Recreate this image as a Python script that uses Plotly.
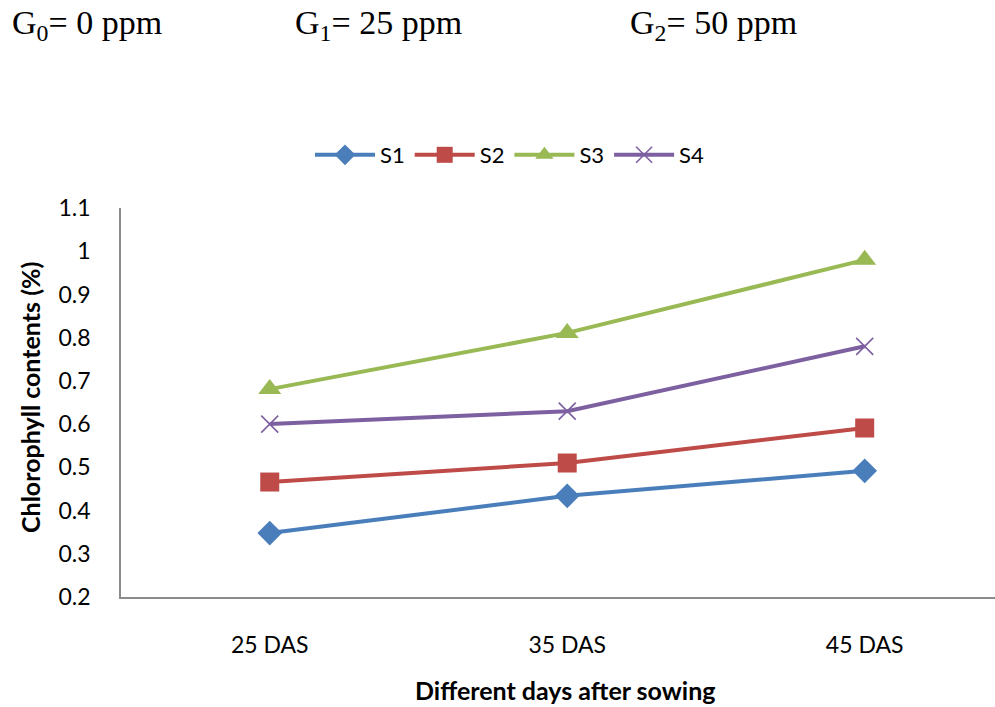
import plotly.graph_objects as go

# Sampling dates and chlorophyll content per treatment
days = ["25 DAS", "35 DAS", "45 DAS"]
s1 = [0.348, 0.434, 0.492]
s2 = [0.466, 0.510, 0.591]
s3 = [0.681, 0.811, 0.980]
s4 = [0.600, 0.630, 0.780]
y_ticks = [0.2, 0.3, 0.4, 0.5, 0.6, 0.7, 0.8, 0.9, 1.0, 1.1]
y_tick_text = ["0.2", "0.3", "0.4", "0.5", "0.6", "0.7", "0.8", "0.9", "1", "1.1"]

W, H = 995, 707
L, R, T, B = 121, 0, 208, 110
pw, ph = W - L - R, H - T - B

series = [
    ("S1", s1, "#4A7EBB", dict(symbol="diamond", size=19)),
    ("S2", s2, "#BE4B48", dict(symbol="square", size=19)),
    ("S3", s3, "#98B954", dict(symbol="triangle-up", size=20)),
    ("S4", s4, "#7D60A0", dict(symbol="x-thin-open", size=17, line=dict(width=1.6))),
]

fig = go.Figure()
for name, vals, color, mk in series:
    marker = dict(color=color, **mk)
    if "line" in marker:
        marker["line"] = dict(color=color, width=mk["line"]["width"])
    fig.add_trace(go.Scatter(
        x=days, y=vals, name=name, mode="lines+markers",
        line=dict(color=color, width=4),
        marker=marker,
    ))

font_main = "Lato, 'Open Sans', sans-serif"

fig.update_layout(
    width=W, height=H,
    margin=dict(l=L, r=R, t=T, b=B),
    paper_bgcolor="white", plot_bgcolor="white",
    showlegend=True,
    legend=dict(
        orientation="h", x=(510 - L) / pw, xanchor="center",
        y=(H - B - 155) / ph, yanchor="middle",
        font=dict(family=font_main, size=22, color="#000"),
        itemwidth=60, traceorder="normal",
    ),
    xaxis=dict(
        type="category", range=[-0.5, 2.438],
        showline=True, linecolor="#8C8C8C", linewidth=1.5,
        showgrid=False, zeroline=False, ticks="",
        tickfont=dict(family=font_main, size=23, color="#000"),
        ticklabelstandoff=27,
    ),
    yaxis=dict(
        range=[0.2, 1.1], tickvals=y_ticks, ticktext=y_tick_text,
        showline=True, linecolor="#8C8C8C", linewidth=1.5,
        showgrid=False, zeroline=False, ticks="",
        tickfont=dict(family=font_main, size=23, color="#000"),
        ticklabelstandoff=24,
    ),
    font=dict(family=font_main),
)

# Axis titles
fig.add_annotation(
    text="<b>Chlorophyll contents (%)</b>", textangle=-90,
    xref="paper", yref="paper", x=(30 - L) / pw, y=(H - B - 398) / ph,
    xanchor="center", yanchor="middle", showarrow=False,
    font=dict(family=font_main, size=25, color="#000"),
)
fig.add_annotation(
    text="<b>Different days after sowing</b>",
    xref="paper", yref="paper", x=(565 - L) / pw, y=(H - B - 690) / ph,
    xanchor="center", yanchor="middle", showarrow=False,
    font=dict(family=font_main, size=25, color="#000"),
)

# Treatment concentration labels
serif = "'Liberation Serif', 'Times New Roman', serif"
for txt, xpx in [("G<sub>0</sub>= 0 ppm", 10), ("G<sub>1</sub>= 25 ppm", 293), ("G<sub>2</sub>= 50 ppm", 628)]:
    fig.add_annotation(
        text=txt, xref="paper", yref="paper",
        x=(xpx - L) / pw, y=(H - B - 25) / ph,
        xanchor="left", yanchor="middle", showarrow=False,
        font=dict(family=serif, size=34, color="#000"),
    )

fig.write_html("out.html")
